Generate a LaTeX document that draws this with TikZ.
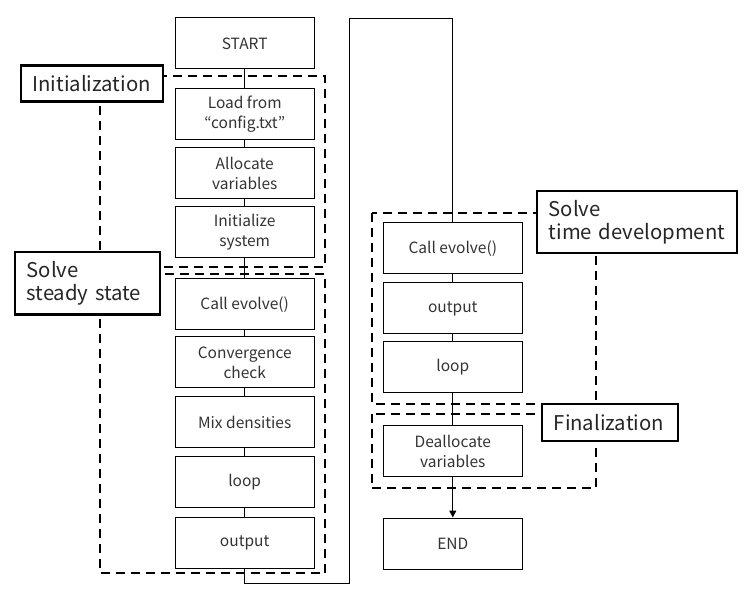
\documentclass[tikz,border=0pt]{standalone}
\usepackage{fontspec}
\setmainfont{Noto Sans CJK JP}
\usetikzlibrary{arrows.meta}
\begin{document}
\begin{tikzpicture}[x=1pt,y=-1pt,
  stepbox/.style={draw, line width=1pt, fill=white, minimum width=139pt, minimum height=51pt,
    align=center, inner sep=0pt, text=black!80, font=\fontsize{15.5}{20}\selectfont},
  grp/.style={draw, line width=2pt, dash pattern=on 9pt off 6pt},
  lbl/.style={draw, line width=2.2pt, fill=white, anchor=north west, inner xsep=12pt, inner ysep=0pt,
    align=left, text=black!85, font=\fontsize{20.3}{22.5}\selectfont},
  conn/.style={draw, line width=1pt}
]
\useasboundingbox[fill=white] (0,0) rectangle (747,601);

% dashed group frames
\draw[grp] (100,76.3) rectangle (325,267.3);
\draw[grp] (100,274) rectangle (325,573.3);
\draw[grp] (371.7,213.3) rectangle (596,404.3);
\draw[grp] (371.7,413.7) rectangle (596,488.3);

% left column
\node[stepbox] (start) at (244.7,43.5) {START};
\node[stepbox] (load) at (244.7,114.5) {Load from\\“config.txt”};
\node[stepbox] (alloc) at (244.7,173) {Allocate\\variables};
\node[stepbox] (init) at (244.7,232.5) {Initialize\\system};
\node[stepbox] (callL) at (244.7,304.5) {Call evolve()};
\node[stepbox] (conv) at (244.7,362.5) {Convergence\\check};
\node[stepbox] (mix) at (244.7,422) {Mix densities};
\node[stepbox] (loopL) at (244.7,482) {loop};
\node[stepbox] (outL) at (244.7,542.5) {output};

% right column
\node[stepbox] (callR) at (452.8,248.5) {Call evolve()};
\node[stepbox] (outR) at (452.8,308.5) {output};
\node[stepbox] (loopR) at (452.8,367.5) {loop};
\node[stepbox] (dealloc) at (452.8,451) {Deallocate\\variables};
\node[stepbox] (end) at (452.8,543.5) {END};

% connectors
\draw[conn] (start) -- (load);
\draw[conn] (load) -- (alloc);
\draw[conn] (alloc) -- (init);
\draw[conn] (init) -- (callL);
\draw[conn] (callL) -- (conv);
\draw[conn] (conv) -- (mix);
\draw[conn] (mix) -- (loopL);
\draw[conn] (loopL) -- (outL);
\coordinate (c1) at (349,583.3);
\coordinate (c2) at (349,18.3);
\draw[conn] (outL.south) |- (c1) -- (c2) -| (callR.north);
\draw[conn] (callR) -- (outR);
\draw[conn] (outR) -- (loopR);
\draw[conn] (loopR) -- (dealloc);
\draw[conn, -{Triangle[width=7pt,length=7pt]}] (dealloc) -- (end);

% labels
\node[lbl, minimum width=142pt, minimum height=36pt, text width=118pt] (linit) at (19.5,64.5) {Initialization};
\node[lbl, minimum width=145pt, minimum height=62.5pt, text width=121pt] (lsteady) at (13.5,251) {Solve\\\mbox{steady state}};
\node[lbl, minimum width=200pt, minimum height=62pt, text width=176pt] (ltime) at (535.7,190) {Solve\\\mbox{time development}};
\node[lbl, minimum width=136.5pt, minimum height=36.5pt, text width=112.5pt] (lfin) at (540.7,403) {Finalization};
\end{tikzpicture}
\end{document}
